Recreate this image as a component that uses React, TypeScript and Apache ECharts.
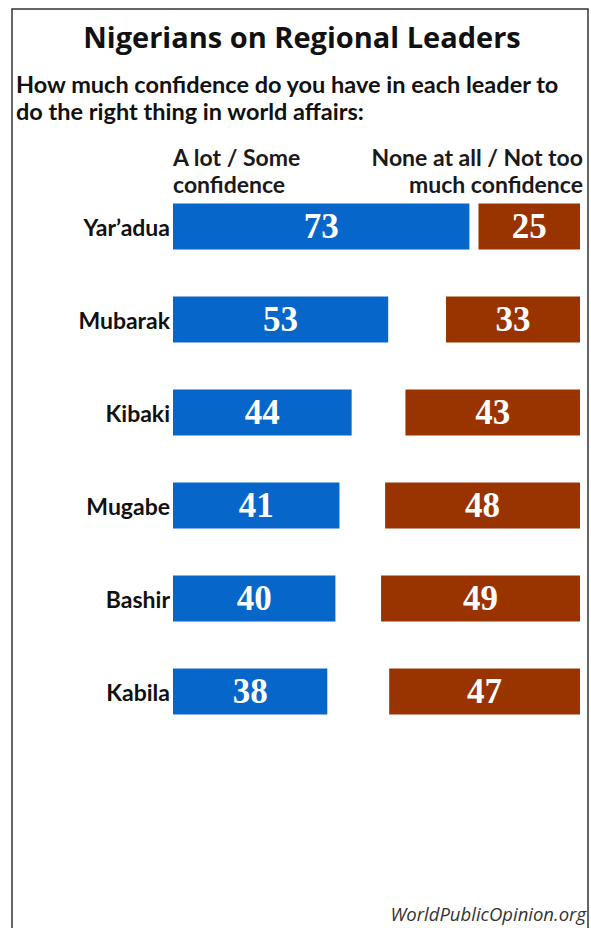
import React, { useEffect, useRef } from "react";
import * as echarts from "echarts";

const leaders = ["Yar’adua", "Mubarak", "Kibaki", "Mugabe", "Bashir", "Kabila"];
const confidence = [73, 53, 44, 41, 40, 38];
const noConfidence = [25, 33, 43, 48, 49, 47];

const titleText = "Nigerians on Regional Leaders";
const subtitleLines = [
  "How much confidence do you have in each leader to",
  "do the right thing in world affairs:",
];
const leftHeader = ["A lot / Some", "confidence"];
const rightHeader = ["None at all / Not too", "much confidence"];
const sourceText = "WorldPublicOpinion.org";

const BLUE = "#0766CA";
const RED = "#993300";
const OPEN = "'Open Sans', Lato, sans-serif";
const LATO = "Lato, 'Open Sans', sans-serif";
const SERIF = "'Liberation Serif', 'DejaVu Serif', serif";

// place text by the baseline of its first line
const topFor = (baseline: number, size: number, lineHeight: number) =>
  baseline - 0.93 * size - (lineHeight - size) / 2;

export default function App() {
  const ref = useRef<HTMLDivElement>(null);
  useEffect(() => {
    if (!ref.current) return;
    const chart = echarts.init(ref.current, null, { renderer: "svg" });
    const valueLabel = {
      show: true,
      position: "inside" as const,
      color: "#ffffff",
      fontFamily: SERIF,
      fontWeight: "bold" as const,
      fontSize: 35,
    };
    const txt = (
      lines: string[],
      x: number,
      baseline: number,
      size: number,
      lineHeight: number,
      align: string,
      family: string,
      weight: any,
      extra: any = {}
    ) => ({
      type: "text",
      x,
      y: topFor(baseline, size, lineHeight),
      style: {
        text: lines.join("\n"),
        fontFamily: family,
        fontWeight: weight,
        fontSize: size,
        lineHeight,
        fill: "#111",
        align,
        textAlign: align,
        verticalAlign: "top",
        textVerticalAlign: "top",
        ...extra,
      },
    });
    chart.setOption({
      animation: false,
      backgroundColor: "#ffffff",
      graphic: [
        {
          type: "rect",
          shape: { x: 12, y: 9, width: 576, height: 960 },
          style: { fill: "none", stroke: "#333", lineWidth: 1.5 },
          silent: true,
        },
        txt([titleText], 302, 49, 29, 29, "center", OPEN, "bold"),
        txt(subtitleLines, 16, 94, 23.5, 27.5, "left", LATO, "bold"),
        txt(leftHeader, 173, 167, 23, 27, "left", LATO, "bold", { fill: "#1a1a1a" }),
        txt(rightHeader, 583, 167, 23, 27, "right", LATO, "bold", { fill: "#1a1a1a" }),
        txt([sourceText], 586, 921, 18.5, 18.5, "right", OPEN, "normal", { fontStyle: "italic", fill: "#333" }),
      ],
      grid: [
        { left: 173, top: 180, width: 406, height: 558 },
        { right: 11, top: 180, width: 406, height: 558 },
      ],
      xAxis: [
        { type: "value", gridIndex: 0, min: 0, max: 100, show: false },
        { type: "value", gridIndex: 1, min: 0, max: 100, inverse: true, show: false },
      ],
      yAxis: [
        {
          type: "category",
          gridIndex: 0,
          data: leaders,
          inverse: true,
          axisLine: { show: false },
          axisTick: { show: false },
          splitLine: { show: false },
          axisLabel: {
            margin: 3,
            color: "#111",
            fontFamily: LATO,
            fontWeight: "bold",
            fontSize: 23,
          },
        },
        {
          type: "category",
          gridIndex: 1,
          data: leaders,
          inverse: true,
          show: false,
        },
      ],
      series: [
        {
          type: "bar",
          name: "A lot / Some confidence",
          xAxisIndex: 0,
          yAxisIndex: 0,
          data: confidence,
          barWidth: 46,
          itemStyle: { color: BLUE },
          label: valueLabel,
        },
        {
          type: "bar",
          name: "None at all / Not too much confidence",
          xAxisIndex: 1,
          yAxisIndex: 1,
          data: noConfidence,
          barWidth: 46,
          itemStyle: { color: RED },
          label: valueLabel,
        },
      ],
    });
    return () => chart.dispose();
  }, []);
  return (
    <div
      ref={ref}
      style={{ position: "fixed", left: 0, top: 0, width: 591, height: 928, background: "#fff" }}
    />
  );
}
